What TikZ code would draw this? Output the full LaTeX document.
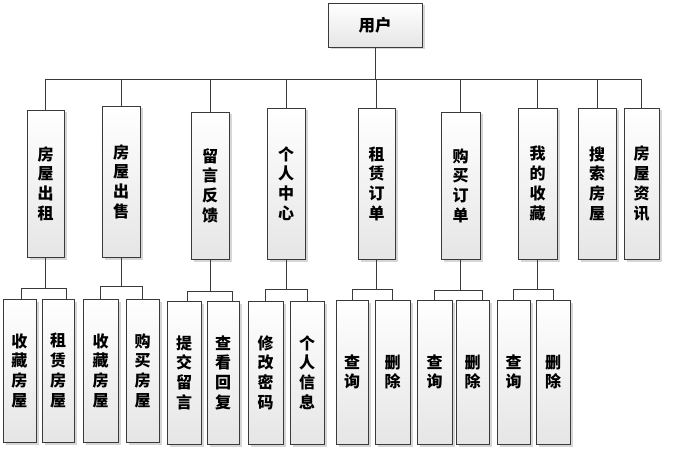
\documentclass[tikz,border=0pt]{standalone}
\usepackage{fontspec}
\newfontfamily\cjk{Noto Sans CJK SC}
\usetikzlibrary{shadows,calc}
\definecolor{lnc}{HTML}{3A3A3A}
\tikzset{
  bx/.style={draw=lnc, line width=0.9pt, top color=white, bottom color=black!10,
    drop shadow={shadow xshift=2.5pt, shadow yshift=-2.5pt, fill=black!16, opacity=1},
    inner sep=0pt, align=center, font=\cjk\bfseries\fontsize{16}{19.7}\selectfont},
  ln/.style={draw=lnc, line width=0.9pt}
}
\newcommand{\bxat}[6]{% name, x1, x2, y1, y2, text
  \node[bx, minimum width={(#3-#2)*1pt}, minimum height={(#5-#4)*1pt}] (#1) at ({(#2+#3)/2},{(#4+#5)/2}) {#6};}
\begin{document}
\begin{tikzpicture}[x=1pt,y=-1pt]
\useasboundingbox[fill=white] (0,0) rectangle (682,449);
% root
\node[bx, minimum width=94pt, minimum height=44pt, font=\cjk\bfseries\fontsize{16.5}{19}\selectfont] (root) at (375,25) {用户};
% level 1
\bxat{L1}{27}{64}{110}{257}{房\\屋\\出\\租}
\bxat{L2}{102}{140}{106}{257}{房\\屋\\出\\售}
\bxat{L3}{191}{229}{112}{259}{留\\言\\反\\馈}
\bxat{L4}{267}{305}{108}{259}{个\\人\\中\\心}
\bxat{L5}{358}{395}{108}{259}{租\\赁\\订\\单}
\bxat{L6}{441}{480}{112}{259}{购\\买\\订\\单}
\bxat{L7}{518}{557}{108}{259}{我\\的\\收\\藏}
\bxat{L8}{578}{616}{108}{259}{搜\\索\\房\\屋}
\bxat{L9}{624}{659}{108}{259}{房\\屋\\资\\讯}
% level 2
\bxat{a1}{3}{36}{299}{442}{收\\藏\\房\\屋}
\bxat{a2}{42}{74}{299}{442}{租\\赁\\房\\屋}
\bxat{b1}{83}{118}{299}{442}{收\\藏\\房\\屋}
\bxat{b2}{126}{159}{299}{442}{购\\买\\房\\屋}
\bxat{c1}{167}{201}{301}{444}{提\\交\\留\\言}
\bxat{c2}{207}{239}{301}{444}{查\\看\\回\\复}
\bxat{d1}{248}{283}{301}{444}{修\\改\\密\\码}
\bxat{d2}{290}{324}{301}{444}{个\\人\\信\\息}
\bxat{e1}{336}{368}{300}{444}{查\\询}
\bxat{e2}{375}{410}{300}{444}{删\\除}
\bxat{f1}{417}{452}{300}{444}{查\\询}
\bxat{f2}{456}{489}{300}{444}{删\\除}
\bxat{g1}{497}{530}{300}{444}{查\\询}
\bxat{g2}{536}{570}{300}{444}{删\\除}
% top bus
\coordinate (bus) at (0,79);
\draw[ln] (root.south) -- (root.south |- bus);
\draw[ln] (L1.north) |- (L9.north |- bus) -- (L9.north);
\foreach \n in {L2,L3,L4,L5,L6,L7,L8} \draw[ln] (\n.north) -- (\n.north |- bus);
% sub buses
\coordinate (sa) at (0,288);
\coordinate (sb) at (0,286);
\coordinate (sc) at (0,291);
\coordinate (sd) at (0,289);
\coordinate (se) at (0,289);
\coordinate (sf) at (0,290);
\coordinate (sg) at (0,289);
\draw[ln] (L1.south) -- (L1.south |- sa);
\draw[ln] ([xshift=1.5pt]a1.north) |- ([xshift=8pt]a2.north |- sa) -- ([xshift=8pt]a2.north);
\draw[ln] (L2.south) -- (L2.south |- sb);
\draw[ln] (b1.north) |- (b2.north |- sb) -- (b2.north);
\draw[ln] (L3.south) -- (L3.south |- sc);
\draw[ln] ([xshift=3pt]c1.north) |- ([xshift=9pt]c2.north |- sc) -- ([xshift=9pt]c2.north);
\draw[ln] (L4.south) -- (L4.south |- sd);
\draw[ln] (d1.north) |- (d2.north |- sd) -- (d2.north);
\draw[ln] (L5.south) -- (L5.south |- se);
\draw[ln] (e1.north) |- (e2.north |- se) -- (e2.north);
\draw[ln] (L6.south) -- (L6.south |- sf);
\draw[ln] (f1.north) |- ([xshift=9.5pt]f2.north |- sf) -- ([xshift=9.5pt]f2.north);
\draw[ln] (L7.south) -- (L7.south |- sg);
\draw[ln] (g1.north) |- (g2.north |- sg) -- (g2.north);
\end{tikzpicture}
\end{document}
